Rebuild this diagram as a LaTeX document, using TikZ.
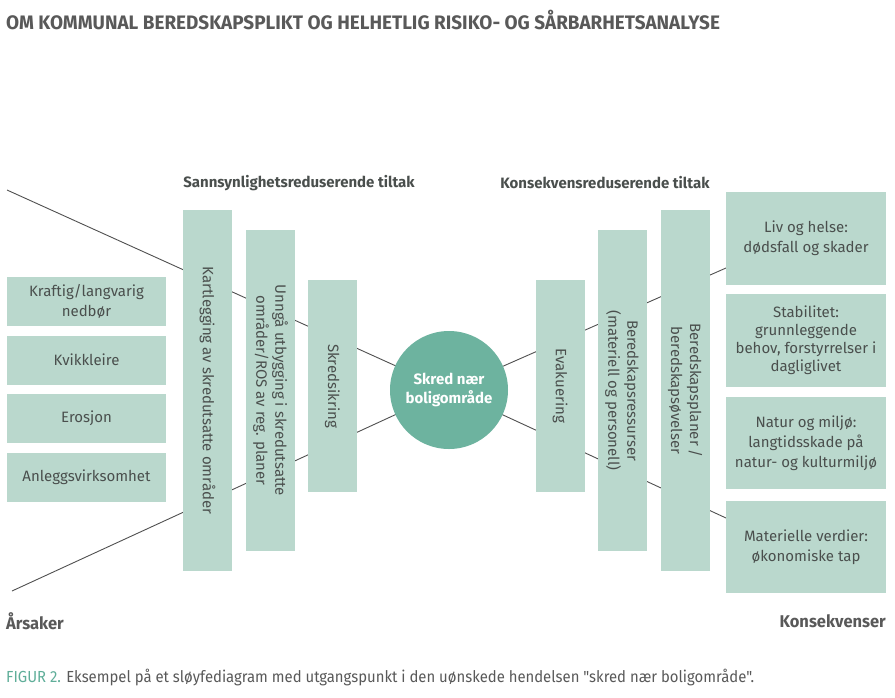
\documentclass[tikz,border=0pt]{standalone}
\usepackage{fontspec}
\setmainfont{Fira Sans}
\newfontfamily\condfont[FakeStretch=0.97]{Fira Sans}
\newfontfamily\capfont[FakeStretch=0.93]{Fira Sans}
\usetikzlibrary{positioning}
\definecolor{boxfill}{HTML}{BAD8CD}
\definecolor{circfill}{HTML}{6DB39F}
\definecolor{txt}{HTML}{4A4F4D}
\definecolor{ttl}{HTML}{595959}
\definecolor{teal}{HTML}{5FAE99}
\definecolor{linec}{HTML}{505050}
\begin{document}
\begin{tikzpicture}[x=1pt,y=-1pt,
  every node/.style={text=txt, inner sep=0pt},
  causebox/.style={fill=boxfill, minimum width=159pt, minimum height=49pt, align=center, font=\fontsize{15}{20}\selectfont},
  vbox/.style={fill=boxfill, minimum height=49pt, align=center, font=\fontsize{15}{19}\selectfont, rotate=-90},
  conbox/.style={fill=boxfill, minimum width=160pt, minimum height=92pt, align=center, font=\fontsize{15}{20}\selectfont},
  conn/.style={draw=linec, line width=0.9pt},
  heading/.style={font=\bfseries\fontsize{15}{17}\selectfont},
  sidelabel/.style={font=\condfont\bfseries\fontsize{17}{20}\selectfont, text=ttl}
]
\useasboundingbox (0,0) rectangle (895,697);
\fill[white] (0,0) rectangle (895,697);

% title
\node[anchor=west, font=\condfont\bfseries\fontsize{19.5}{22}\selectfont, text=ttl] (title) at (6,20) {OM KOMMUNAL BEREDSKAPSPLIKT OG HELHETLIG RISIKO- OG SÅRBARHETSANALYSE};

% connector anchors
\coordinate (cc) at (449,390);
\coordinate (ltop) at (7,190);
\coordinate (lbot) at (12,591);
\coordinate (rtop) at (726,268);
\coordinate (rbot) at (726,518);
\draw[conn] (ltop) -- (cc);
\draw[conn] (lbot) -- (cc);
\draw[conn] (cc) -- (rtop);
\draw[conn] (cc) -- (rbot);

% headings
\node[heading] (h1) at (299,183) {Sannsynlighetsreduserende tiltak};
\node[heading] (h2) at (605,183) {Konsekvensreduserende tiltak};

% causes
\node[causebox] (c1) at (86.5,301) {Kraftig/langvarig\\nedbør};
\node[causebox] (c2) at (86.5,360) {Kvikkleire};
\node[causebox] (c3) at (86.5,418.5) {Erosjon};
\node[causebox] (c4) at (86.5,477.5) {Anleggsvirksomhet};

% barriers left
\node[vbox, minimum width=361pt] (k) at (207.5,390.5) {Kartlegging av skredutsatte områder};
\node[vbox, minimum width=321pt] (u) at (270.5,390.5) {Unngå utbygging i skredutsatte\\områder/ROS av reg. planer};
\node[vbox, minimum width=212pt] (s) at (332.5,386) {Skredsikring};

% event
\node[circle, fill=circfill, minimum size=118pt, align=center, text=white, font=\bfseries\fontsize{15}{19}\selectfont] (ev) at (cc) {Skred nær\\boligområde};

% barriers right
\node[vbox, minimum width=212pt] (e) at (560,386) {Evakuering};
\node[vbox, minimum width=321pt] (b) at (622,390.5) {Beredskapsressurser\\(materiell og personell)};
\node[vbox, minimum width=361pt] (p) at (685,390.5) {Beredskapsplaner /\\beredskapsøvelser};

% consequences
\node[conbox, minimum height=93pt] (r1) at (806,238.5) {Liv og helse:\\dødsfall og skader};
\node[conbox, minimum height=93pt, font=\fontsize{15}{18}\selectfont] (r2) at (806,340.5) {Stabilitet:\\grunnleggende\\behov, forstyrrelser i\\dagliglivet};
\node[conbox] (r3) at (806,443) {Natur og miljø:\\langtidsskade på\\natur- og kulturmiljø};
\node[conbox] (r4) at (806,547) {Materielle verdier:\\økonomiske tap};

% side labels
\node[sidelabel, anchor=west] (ars) at (6,621) {Årsaker};
\node[sidelabel, anchor=east] (kons) at (886,621) {Konsekvenser};

% caption
\node[anchor=west, font=\capfont\fontsize{16}{18}\selectfont, text=ttl] (cap) at (6,678) {\textcolor{teal}{FIGUR 2.} Eksempel på et sløyfediagram med utgangspunkt i den uønskede hendelsen "skred nær boligområde".};
\end{tikzpicture}
\end{document}
